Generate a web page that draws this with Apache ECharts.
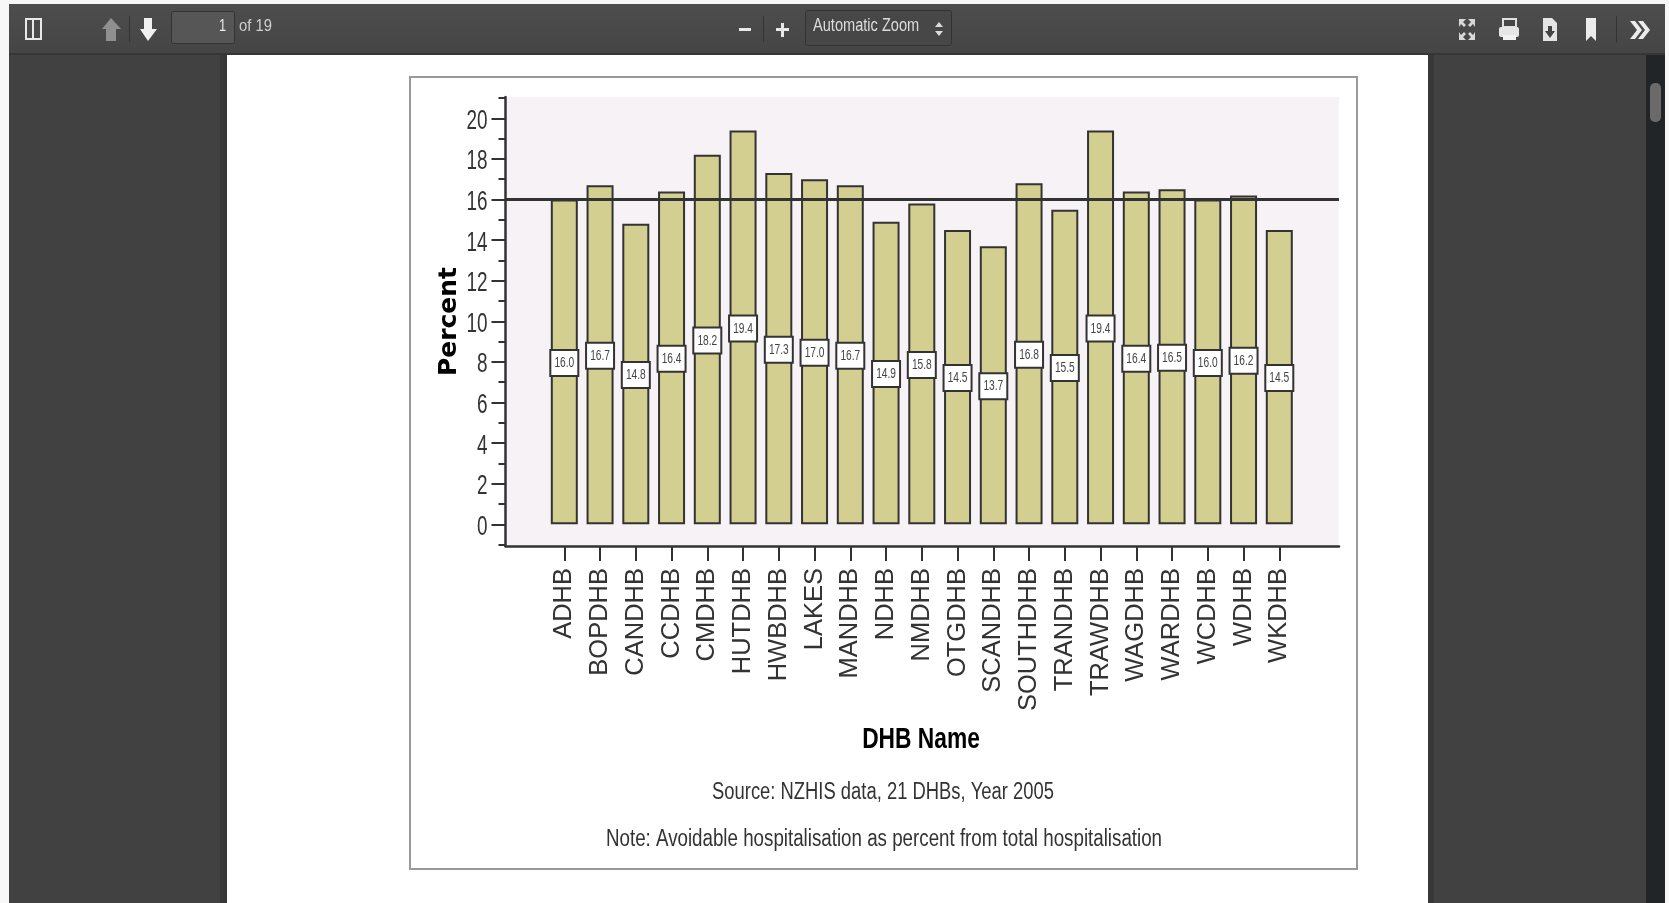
<!DOCTYPE html>
<html>
<head lang="en">
    <meta charset="UTF-8">
    <title>Avoidable hospitalisation by DHB</title>
    <script src="https://cdn.jsdelivr.net/npm/echarts@6/dist/echarts.min.js"></script>
    <style>
        html, body { margin: 0; padding: 0; background: #fff; overflow: hidden; }
        #chart { width: 1669px; height: 903px; }
    </style>
</head>
<body>

<div id="chart"></div>

<script>

    var dhbNames = ['ADHB', 'BOPDHB', 'CANDHB', 'CCDHB', 'CMDHB', 'HUTDHB', 'HWBDHB', 'LAKES', 'MANDHB', 'NDHB', 'NMDHB',
        'OTGDHB', 'SCANDHB', 'SOUTHDHB', 'TRANDHB', 'TRAWDHB', 'WAGDHB', 'WARDHB', 'WCDHB', 'WDHB', 'WKDHB'];
    var percents = [16.0, 16.7, 14.8, 16.4, 18.2, 19.4, 17.3, 17.0, 16.7, 14.9, 15.8,
        14.5, 13.7, 16.8, 15.5, 19.4, 16.4, 16.5, 16.0, 16.2, 14.5];
    var nationalMean = 16;
    var majorTicks = [0, 2, 4, 6, 8, 10, 12, 14, 16, 18, 20];
    var minorTicks = [-1, 1, 3, 5, 7, 9, 11, 13, 15, 17, 19, 21];

    var barData = percents.map(function (v, i) { return [i, v]; });
    var xPositions = dhbNames.map(function (n, i) { return i; });
    var xMin = -1.645;
    var barW = 27;

    var sans = '"Liberation Sans", sans-serif';

    // squeezed text, the screenshot was stretched so normal fonts are too wide
    function txt(text, x, y, sx, font, fill, align) {
        return {
            type: 'text', x: x, y: y, scaleX: sx, z: 10,
            style: { text: text, font: font, fill: fill, textAlign: align || 'center', textVerticalAlign: 'middle' }
        };
    }
    function box(x, y, w, h, fill, stroke, lw, r) {
        return {
            type: 'rect', z: 1,
            shape: { x: x, y: y, width: w, height: h, r: r || 0 },
            style: { fill: fill, stroke: stroke || null, lineWidth: lw || 0 }
        };
    }
    function poly(points, fill) {
        return { type: 'polygon', z: 5, shape: { points: points }, style: { fill: fill } };
    }

    // pdf viewer around the chart
    var chrome = [
        box(0, 0, 1669, 903, '#f7f7f7'),
        box(9, 54, 1637, 849, '#414141'),
        box(1646, 54, 19, 849, '#212528'),
        box(1650, 83, 11, 39, '#6a6a6a', null, 0, 5),
        {
            type: 'rect', z: 1, shape: { x: 9, y: 4, width: 1656, height: 50 },
            style: {
                fill: new echarts.graphic.LinearGradient(0, 0, 0, 1, [
                    { offset: 0, color: '#4d4d4d' }, { offset: 1, color: '#454545' }
                ])
            }
        },
        box(9, 53, 1656, 2, '#363636'),
        box(220, 55, 7, 848, '#383838'),
        box(1428, 55, 6, 848, '#383838'),
        box(227, 55, 1201, 848, '#ffffff'),
        box(410, 77, 947, 792, '#ffffff', '#999999', 2),

        // left of the toolbar
        box(26, 19, 15, 20, '#4a4a4a', '#e8e8e8', 2),
        box(32, 19, 2, 20, '#e8e8e8'),
        poly([[111, 18], [121, 29], [116, 29], [116, 41], [106, 41], [106, 29], [102, 29]], '#8f8f8f'),
        box(129, 16, 1, 26, '#333333'),
        poly([[144, 18], [152, 18], [152, 29], [157, 29], [148, 41], [140, 29], [144, 29]], '#f0f0f0'),
        box(171.5, 11.5, 63, 32, '#565656', '#333333', 1, 2),
        txt('1', 226, 27, 0.8, '16px ' + sans, '#e8e8e8', 'right'),
        txt('of 19', 239, 26, 0.87, '17px ' + sans, '#cfcfcf', 'left'),

        // zoom controls
        box(739, 28, 12, 3, '#e8e8e8'),
        box(763, 16, 1, 26, '#333333'),
        box(776, 28, 13, 3, '#e8e8e8'),
        box(781, 23, 3, 14, '#e8e8e8'),
        box(805.5, 10.5, 146, 35, '#474747', '#333333', 1, 2),
        txt('Automatic Zoom', 813, 26, 0.81, '18px ' + sans, '#dcdcdc', 'left'),
        poly([[939, 22], [943, 27], [935, 27]], '#dcdcdc'),
        poly([[935, 31], [943, 31], [939, 36]], '#dcdcdc'),

        // right of the toolbar
        poly([[1459, 19], [1466, 19], [1463, 22], [1466, 25], [1464, 27], [1461, 24], [1459, 27]], '#d8d8d8'),
        poly([[1475, 19], [1468, 19], [1471, 22], [1468, 25], [1470, 27], [1473, 24], [1475, 27]], '#d8d8d8'),
        poly([[1459, 40], [1466, 40], [1463, 37], [1466, 34], [1464, 32], [1461, 35], [1459, 32]], '#d8d8d8'),
        poly([[1475, 40], [1468, 40], [1471, 37], [1468, 34], [1470, 32], [1473, 35], [1475, 32]], '#d8d8d8'),
        box(1503, 19, 13, 8, '#474747', '#e0e0e0', 2),
        box(1499, 27, 20, 10, '#e6e6e6', null, 0, 2),
        box(1503, 35, 13, 5, '#f2f2f2'),
        poly([[1543, 18], [1552, 18], [1557, 23], [1557, 41], [1543, 41]], '#e4e4e4'),
        poly([[1548, 26], [1552, 26], [1552, 31], [1555, 31], [1550, 38], [1545, 31], [1548, 31]], '#444444'),
        poly([[1586, 18], [1596, 18], [1596, 41], [1591, 36], [1586, 41]], '#ececec'),
        box(1616, 16, 1, 27, '#333333'),
        poly([[1630, 21], [1635, 21], [1642, 30], [1635, 39], [1630, 39], [1637, 30]], '#ececec'),
        poly([[1638, 21], [1643, 21], [1650, 30], [1643, 39], [1638, 39], [1645, 30]], '#ececec')
    ];

    // chart texts under the axes
    var notes = [
        txt('DHB Name', 921, 740, 0.785, 'bold 29px ' + sans, '#000000'),
        txt('Source: NZHIS data, 21 DHBs, Year 2005', 883, 793, 0.8, '23px ' + sans, '#333333'),
        txt('Note: Avoidable hospitalisation as percent from total hospitalisation', 884, 840, 0.815, '23px ' + sans, '#333333')
    ];

    // value tags in the middle of each bar, text squeezed like the original
    function renderTag(params, api) {
        var c = api.coord([api.value(0), api.value(1) / 2]);
        return {
            type: 'group', children: [{
                type: 'rect',
                shape: { x: c[0] - barW / 2 - 0.5, y: c[1] - 13 + 1, width: barW + 1, height: 26 },
                style: { fill: '#ffffff', stroke: '#333333', lineWidth: 2 }
            }, {
                type: 'text', x: c[0], y: c[1] + 1, scaleX: 0.68,
                style: {
                    text: api.value(1).toFixed(1), font: '15px ' + sans, fill: '#444444',
                    textAlign: 'center', textVerticalAlign: 'middle'
                }
            }]
        };
    }

    // y tick labels, same reason
    function renderTickLabel(params, api) {
        var c = api.coord([xMin, api.value(0)]);
        return {
            type: 'text', x: c[0] - 18, y: c[1] + 3, scaleX: 0.7,
            style: {
                text: String(api.value(0)), font: '27px ' + sans, fill: '#333333',
                textAlign: 'right', textVerticalAlign: 'middle'
            }
        };
    }

    var chart = echarts.init(document.getElementById('chart'), null, { renderer: 'canvas' });

    var option = {
        animation: false,
        backgroundColor: '#ffffff',
        grid: {
            show: true, left: 505.5, top: 97, width: 833.5, height: 449,
            backgroundColor: '#f6f2f6', borderWidth: 0, z: 2
        },
        graphic: { elements: chrome.concat(notes) },
        xAxis: {
            type: 'value', min: xMin, max: 21.67, splitLine: { show: false }, z: 4,
            axisLine: { show: true, onZero: false, lineStyle: { color: '#333333', width: 2.5 } },
            axisTick: { show: true, length: 15, customValues: xPositions, lineStyle: { color: '#333333', width: 2 } },
            axisLabel: {
                show: true, rotate: 90, margin: 22, customValues: xPositions, color: '#333333',
                fontFamily: sans, fontSize: 25.5, padding: [8, 0, 0, 0],
                formatter: function (v) { return dhbNames[v]; }
            }
        },
        yAxis: [{
            type: 'value', min: -1.07, max: 21.05, splitLine: { show: false }, z: 4,
            name: 'Percent', nameLocation: 'middle', nameRotate: 90, nameGap: 44,
            nameTextStyle: { fontFamily: '"DejaVu Sans", sans-serif', fontWeight: 'bold', fontSize: 25, color: '#000000' },
            axisLine: { show: true, onZero: false, lineStyle: { color: '#333333', width: 2.5 } },
            axisTick: { show: true, length: 14, customValues: majorTicks, lineStyle: { color: '#333333', width: 2 } },
            axisLabel: { show: false }
        }, {
            type: 'value', min: -1.07, max: 21.05, position: 'left', splitLine: { show: false }, z: 4,
            axisLine: { show: false, onZero: false },
            axisTick: { show: true, length: 7, customValues: minorTicks, lineStyle: { color: '#333333', width: 2 } },
            axisLabel: { show: false }
        }],
        series: [{
            type: 'bar', data: barData, barWidth: barW, z: 3,
            itemStyle: { color: '#d3cf90', borderColor: '#333333', borderWidth: 2 },
            markLine: {
                silent: true, symbol: 'none', z: 5, animation: false,
                label: { show: false },
                lineStyle: { color: '#333333', width: 3, type: 'solid' },
                data: [{ yAxis: nationalMean }]
            }
        }, {
            type: 'custom', data: barData, renderItem: renderTag, z: 4, silent: true
        }, {
            type: 'custom', data: majorTicks.map(function (v) { return [v]; }), renderItem: renderTickLabel,
            encode: { y: 0 }, z: 5, silent: true
        }]
    };
    chart.setOption(option);

</script>
</body>
</html>
